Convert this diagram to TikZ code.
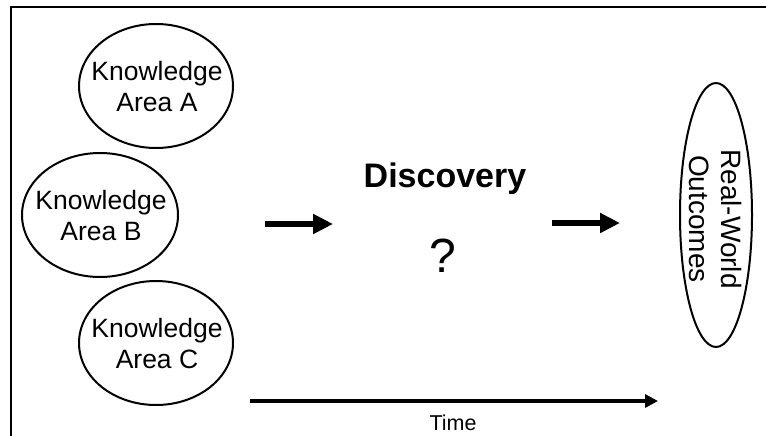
\documentclass[tikz,border=0pt]{standalone}
\usepackage{fontspec}
\setmainfont{Liberation Sans}
\usetikzlibrary{arrows.meta}
\tikzset{
  areatext/.style={inner sep=0pt, align=center, font=\fontsize{26.5}{31}\selectfont},
  ellline/.style={line width=2pt},
  bigarrow/.style={line width=6pt, -{Triangle[length=20pt,width=19pt]}},
  timearrow/.style={line width=3.5pt, -{Triangle[length=13pt,width=13pt]}},
  frameline/.style={line width=2.5pt}
}
\begin{document}
\begin{tikzpicture}[x=1pt,y=-1pt]
\useasboundingbox (0,0) rectangle (766,436);
\coordinate (fb) at (11,440);
\coordinate (fc) at (11,7);
\coordinate (fr) at (770,7);
\draw[frameline] (fb) -- (fc) -- (fr);
\node[areatext] (A) at (157,87) {Knowledge\\Area A};
\draw[ellline] (156,86) ellipse [x radius=77, y radius=62];
\node[areatext] (B) at (101,216) {Knowledge\\Area B};
\draw[ellline] (100,215) ellipse [x radius=78, y radius=62];
\node[areatext] (C) at (157,344) {Knowledge\\Area C};
\draw[ellline] (156,343) ellipse [x radius=77, y radius=62];
\node[font=\fontsize{34}{40}\selectfont\bfseries] (disc) at (445,179) {Discovery};
\node[font=\fontsize{48}{56}\selectfont] (q) at (443,256) {?};
\node[inner sep=0pt, rotate=-90, align=center, font=\fontsize{28}{32}\selectfont] (R) at (716,219) {Real-World\\Outcomes};
\draw[ellline] (716,215) ellipse [x radius=36, y radius=132];
\coordinate (a1s) at (265,224);
\coordinate (a1e) at (333,224);
\coordinate (a2s) at (552,223);
\coordinate (a2e) at (620,223);
\draw[bigarrow] (a1s) -- (a1e);
\draw[bigarrow] (a2s) -- (a2e);
\coordinate (ts) at (250,401);
\coordinate (te) at (658,401);
\draw[timearrow] (ts) -- (te);
\node[font=\fontsize{21.5}{25}\selectfont] (time) at (453,423) {Time};
\end{tikzpicture}
\end{document}
